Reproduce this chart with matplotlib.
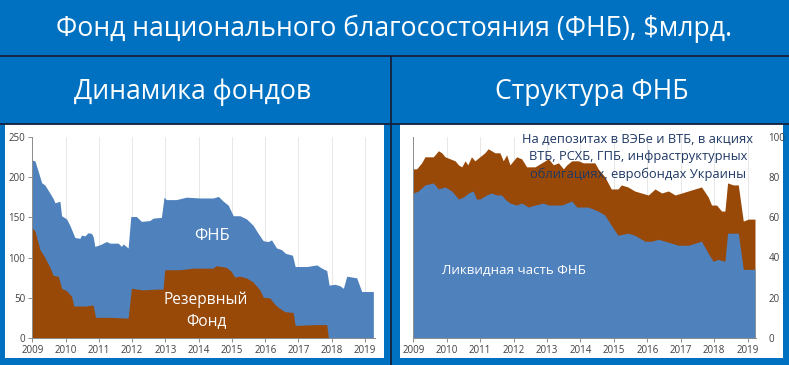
import matplotlib
matplotlib.use("Agg")
import matplotlib.pyplot as plt
from matplotlib.patches import Rectangle
from matplotlib.lines import Line2D

plt.rcParams['font.family'] = ['Open Sans', 'DejaVu Sans']

# left chart: top of the stacked area (reserve fund + NWF) and the reserve fund
left_total_years = [2009.00, 2009.08, 2009.23, 2009.28, 2009.38, 2009.53, 2009.63, 2009.68, 2009.83, 2009.88,
                    2010.03, 2010.13, 2010.28, 2010.43, 2010.48, 2010.58, 2010.68, 2010.78, 2010.83, 2010.88,
                    2011.03, 2011.23, 2011.33, 2011.58, 2011.68, 2011.73, 2011.88, 2011.96, 2012.13, 2012.28,
                    2012.53, 2012.63, 2012.88, 2012.96, 2013.03, 2013.33, 2013.63, 2014.04, 2014.44, 2014.59,
                    2014.74, 2014.89, 2015.04, 2015.24, 2015.44, 2015.64, 2015.79, 2015.94, 2016.09, 2016.19,
                    2016.34, 2016.49, 2016.59, 2016.64, 2016.82, 2016.90, 2017.25, 2017.55, 2017.70, 2017.85,
                    2017.92, 2018.10, 2018.25, 2018.35, 2018.45, 2018.60, 2018.75, 2018.90, 2019.25]
left_total = [221, 220, 200, 193, 190, 180, 173, 168, 170, 152,
              148, 140, 125, 124, 128, 127, 131, 130, 126, 114,
              116, 120, 118, 118, 114, 117, 112, 151, 151, 145,
              146, 149, 150, 175, 172, 172, 175, 174, 174, 176,
              170, 165, 152, 152, 148, 140, 130, 121, 120, 122,
              112, 110, 106, 105, 103, 89, 89, 91, 87, 84,
              66, 67, 65, 62, 77, 76, 75, 58, 58]

reserve_years = [2009.00, 2009.08, 2009.23, 2009.38, 2009.53, 2009.63, 2009.78, 2009.88, 2010.03, 2010.18,
                 2010.25, 2010.63, 2010.73, 2010.83, 2010.90, 2011.33, 2011.88, 2011.98, 2012.33, 2012.73,
                 2012.93, 2012.98, 2013.43, 2013.83, 2014.43, 2014.53, 2014.83, 2014.98, 2015.08, 2015.23,
                 2015.43, 2015.63, 2015.84, 2015.94, 2016.14, 2016.29, 2016.44, 2016.59, 2016.84, 2016.90,
                 2017.55, 2017.85, 2017.90, 2019.25]
reserve = [137, 133, 110, 100, 88, 78, 77, 62, 59, 52,
           40, 40, 41, 41, 26, 26, 25, 62, 60, 61,
           61, 85, 85, 87, 87, 90, 88, 83, 76, 77,
           75, 70, 60, 51, 50, 42, 37, 33, 32, 16,
           17, 17, 0, 0]

# right chart: NWF total and its liquid part
nwf_years = [2009.00, 2009.10, 2009.25, 2009.35, 2009.60, 2009.75, 2009.85, 2009.95, 2010.10, 2010.25,
             2010.35, 2010.45, 2010.55, 2010.63, 2010.74, 2010.84, 2010.99, 2011.14, 2011.24, 2011.44,
             2011.59, 2011.69, 2011.79, 2011.89, 2012.09, 2012.24, 2012.39, 2012.64, 2012.84, 2013.04,
             2013.19, 2013.34, 2013.49, 2013.59, 2013.74, 2013.94, 2014.08, 2014.23, 2014.43, 2014.53,
             2014.73, 2014.92, 2015.12, 2015.22, 2015.42, 2015.62, 2015.82, 2016.03, 2016.23, 2016.43,
             2016.63, 2016.83, 2017.03, 2017.42, 2017.62, 2017.82, 2017.92, 2018.07, 2018.22, 2018.32,
             2018.40, 2018.57, 2018.72, 2018.87, 2019.02, 2019.22]
nwf_total = [84, 84, 87, 90, 90, 93, 92, 90, 89, 88,
             86, 85, 88, 86, 90, 88, 90, 92, 94, 92,
             92, 88, 91, 86, 90, 89, 85, 85, 87, 89,
             86, 87, 84, 86, 88, 88, 87, 87, 87, 84,
             80, 74, 74, 76, 75, 73, 72, 71, 74, 72,
             73, 71, 72, 74, 75, 70, 66, 66, 63, 63,
             77, 76, 76, 58, 59, 59]

liquid_years = [2009.00, 2009.15, 2009.35, 2009.60, 2009.75, 2009.95, 2010.15, 2010.35, 2010.50, 2010.65,
                2010.79, 2010.89, 2010.99, 2011.19, 2011.34, 2011.49, 2011.64, 2011.74, 2011.89, 2012.09,
                2012.24, 2012.44, 2012.64, 2012.89, 2013.04, 2013.24, 2013.44, 2013.74, 2013.89, 2014.23,
                2014.53, 2014.73, 2014.92, 2015.12, 2015.42, 2015.62, 2015.93, 2016.13, 2016.33, 2016.53,
                2016.73, 2016.93, 2017.23, 2017.42, 2017.62, 2017.82, 2017.97, 2018.12, 2018.32, 2018.40,
                2018.72, 2018.87, 2019.22]
liquid = [72, 73, 76, 77, 74, 75, 73, 69, 70, 72,
          73, 69, 69, 71, 72, 71, 71, 69, 67, 66,
          67, 65, 66, 67, 66, 66, 66, 68, 65, 65,
          63, 61, 56, 51, 52, 51, 48, 48, 49, 48,
          47, 46, 46, 47, 48, 42, 38, 39, 38, 52,
          52, 34, 34]

year_ticks = list(range(2009, 2020))

BG = '#0070C0'
LINE = '#14213d'
BLUE = '#4F81BD'
BROWN = '#984807'
TICK = '#404040'

W, H = 789, 365
fig = plt.figure(figsize=(W / 100, H / 100), dpi=100, facecolor=BG)


def px(x0, y0, x1, y1):
    # pixel box (top-left origin) -> figure fraction rect
    return [x0 / W, 1 - y1 / H, (x1 - x0) / W, (y1 - y0) / H]


# white panels
for x0, x1 in [(5, 384), (400, 783)]:
    fig.patches.append(Rectangle((x0 / W, 1 - 358 / H), (x1 - x0) / W, (358 - 124) / H,
                                 transform=fig.transFigure, facecolor='white', edgecolor='none', zorder=-2))

# separator lines
for yy in [56, 124]:
    fig.add_artist(Line2D([0, 1], [1 - yy / H] * 2, transform=fig.transFigure, color=LINE, lw=1.3, zorder=-1))
fig.add_artist(Line2D([391 / W] * 2, [1 - 56 / H, 0], transform=fig.transFigure, color=LINE, lw=1.3, zorder=-1))

fig.text(0.5, 1 - 29 / H, 'Фонд национального благосостояния (ФНБ), $млрд.', color='white',
         fontsize=19.2, ha='center', va='center')
fig.text(193 / W, 1 - 92 / H, 'Динамика фондов', color='white', fontsize=19.2, ha='center', va='center')
fig.text(592 / W, 1 - 92 / H, 'Структура ФНБ', color='white', fontsize=19.2, ha='center', va='center')


def style(ax):
    ax.set_facecolor('white')
    ax.set_xticks(year_ticks)
    ax.grid(axis='x', color='#e3e3e3', lw=0.6, zorder=1)
    for s in ['top', 'right']:
        ax.spines[s].set_visible(False)
    for s in ['left', 'bottom']:
        ax.spines[s].set_color('#8c8c8c')
        ax.spines[s].set_linewidth(0.7)
        ax.spines[s].set_zorder(6)
    ax.tick_params(colors='#8c8c8c', labelcolor=TICK, labelsize=7, length=3, width=0.7, pad=2)


# left chart
ax1 = fig.add_axes(px(32.3, 136.7, 375, 338.3))
ax1.fill_between(left_total_years, 0, left_total, color=BLUE, lw=0, zorder=2)
ax1.fill_between(reserve_years, 0, reserve, color=BROWN, lw=0, zorder=3)
ax1.set_xlim(2009, 2019.3)
ax1.set_ylim(0, 250)
ax1.set_yticks([0, 50, 100, 150, 200, 250])
style(ax1)
ax1.text(2014.4, 127, 'ФНБ', color='white', fontsize=12, ha='center', va='center', zorder=5)
ax1.text(2014.22, 35, 'Резервный\nФонд', color='white', fontsize=11.2, ha='center', va='center',
         linespacing=1.45, zorder=5)

# right chart
ax2 = fig.add_axes(px(413.3, 136.7, 756, 337.7))
ax2.fill_between(nwf_years, 0, nwf_total, color=BROWN, lw=0, zorder=2)
ax2.fill_between(liquid_years, 0, liquid, color=BLUE, lw=0, zorder=3)
ax2.set_xlim(2009, 2019.25)
ax2.set_ylim(0, 100)
ax2.set_yticks([0, 20, 40, 60, 80, 100])
style(ax2)
ax2.yaxis.tick_right()
ax2.tick_params(axis='y', length=0, pad=9)
ax2.text(2012.02, 33.5, 'Ликвидная часть ФНБ', color='white', fontsize=9.6, ha='center', va='center', zorder=5)
ax2.text(2015.72, 89.8, 'На депозитах в ВЭБе и ВТБ, в акциях\nВТБ, РСХБ, ГПБ, инфраструктурных\n'
                        'облигациях, евробондах Украины', color='#1F3864', fontsize=9.3, ha='center',
         va='center', linespacing=1.45, zorder=5)

fig.savefig('out.png', dpi=100, facecolor=BG)
